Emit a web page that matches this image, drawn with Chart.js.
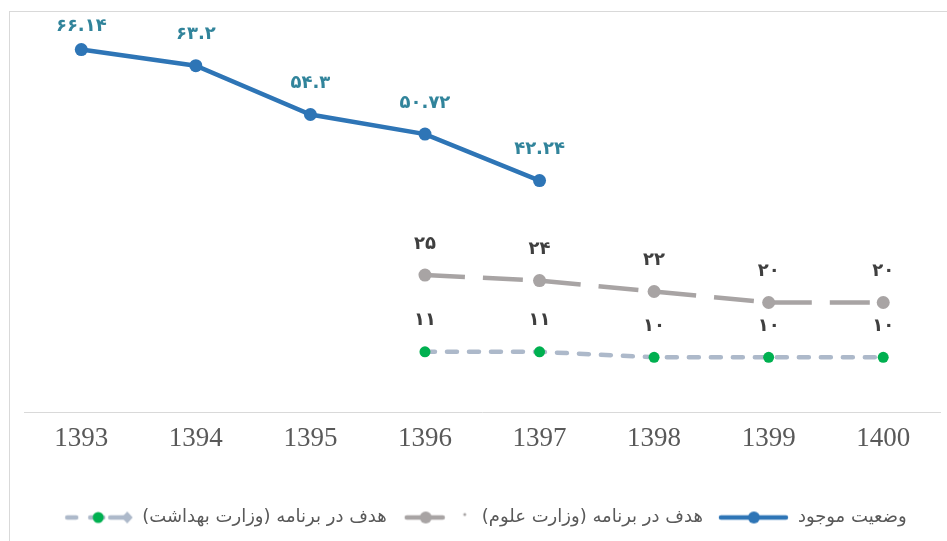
<!DOCTYPE html>
<html>
<head>
<meta charset="utf-8">
<script src="https://cdn.jsdelivr.net/npm/chart.js@4/dist/chart.umd.min.js"></script>
<style>
  body { margin: 0; background: #fff; }
  #wrap { position: relative; width: 947px; height: 541px; }
  .frame {
    position: absolute; left: 9px; top: 11px; right: 0; bottom: 0;
    border-left: 1px solid #d9d9d9; border-top: 1px solid #d9d9d9;
  }
  canvas { position: absolute; left: 0; top: 0; }
</style>
</head>
<body>
<div id="wrap">
  <div class="frame"></div>
  <canvas id="chart"></canvas>
</div>
<script>
const YEARS = ['1393', '1394', '1395', '1396', '1397', '1398', '1399', '1400']
const CURRENT = [66.14, 63.2, 54.3, 50.72, 42.24, null, null, null]
const TARGET_OLUM = [null, null, null, 25, 24, 22, 20, 20]
const TARGET_BEHDASHT = [null, null, null, 11, 11, 10, 10, 10]
const SERIES_NAMES = [
  'وضعیت موجود',
  'هدف در برنامه (وزارت علوم)',
  'هدف در برنامه (وزارت بهداشت)',
]

const FA_DIGITS = '۰۱۲۳۴۵۶۷۸۹'
function toPersian(value) {
  return String(value).replace(/\d/g, (d) => FA_DIGITS[d])
}

// legend markers, all the same width so the built-in legend spaces them evenly
const MARKER_W = 72
const MARKER_H = 16

function makeMarker(draw) {
  const c = document.createElement('canvas')
  c.width = MARKER_W
  c.height = MARKER_H
  const ctx = c.getContext('2d')
  draw(ctx, MARKER_H / 2)
  return c
}

function dot(ctx, x, y, r, color) {
  ctx.fillStyle = color
  ctx.beginPath()
  ctx.arc(x, y, r, 0, Math.PI * 2)
  ctx.fill()
}

const blueMarker = makeMarker((ctx, y) => {
  ctx.strokeStyle = '#2e75b6'
  ctx.lineWidth = 4.5
  ctx.lineCap = 'round'
  ctx.beginPath()
  ctx.moveTo(MARKER_W - 68, y)
  ctx.lineTo(MARKER_W - 3, y)
  ctx.stroke()
  dot(ctx, MARKER_W - 35, y, 6, '#2e75b6')
})

const grayMarker = makeMarker((ctx, y) => {
  ctx.strokeStyle = '#a8a4a4'
  ctx.lineWidth = 4.5
  ctx.lineCap = 'round'
  ctx.beginPath()
  ctx.moveTo(MARKER_W - 66, y)
  ctx.lineTo(MARKER_W - 30, y)
  ctx.stroke()
  dot(ctx, MARKER_W - 47, y, 6, '#a8a4a4')
  dot(ctx, MARKER_W - 8, y - 3, 1.5, '#a8a4a4')
})

const behdashtMarker = makeMarker((ctx, y) => {
  ctx.strokeStyle = '#adb9ca'
  ctx.lineWidth = 4.5
  ctx.lineCap = 'round'
  ctx.beginPath()
  ctx.moveTo(6, y)
  ctx.lineTo(15, y)
  ctx.moveTo(29, y)
  ctx.lineTo(42, y)
  ctx.moveTo(49, y)
  ctx.lineTo(63, y)
  ctx.stroke()
  dot(ctx, 37, y, 5.5, '#00b050')
  ctx.fillStyle = '#adb9ca'
  ctx.beginPath()
  ctx.moveTo(66, y - 6)
  ctx.lineTo(71.5, y)
  ctx.lineTo(66, y + 6)
  ctx.lineTo(60.5, y)
  ctx.closePath()
  ctx.fill()
})

const MARKERS = [blueMarker, grayMarker, behdashtMarker]

const valueLabels = {
  id: 'valueLabels',
  afterDatasetsDraw(chart) {
    const { ctx } = chart
    ctx.save()
    ctx.font = 'bold 18px "DejaVu Sans"'
    ctx.textAlign = 'center'
    ctx.textBaseline = 'middle'
    chart.data.datasets.forEach((ds, i) => {
      const meta = chart.getDatasetMeta(i)
      ctx.fillStyle = ds.labelColor
      meta.data.forEach((pt, j) => {
        const v = ds.data[j]
        if (v === null) return
        const y = Math.max(pt.y - 31, 26)
        ctx.fillText(toPersian(v), pt.x, y)
      })
    })
    ctx.restore()
  },
}

new Chart(document.getElementById('chart'), {
  type: 'line',
  data: {
    labels: YEARS,
    datasets: [
      {
        label: SERIES_NAMES[0],
        data: CURRENT,
        borderColor: '#2e75b6',
        backgroundColor: '#2e75b6',
        borderWidth: 4.5,
        pointRadius: 6.5,
        pointBorderWidth: 0,
        labelColor: '#31849b',
      },
      {
        label: SERIES_NAMES[1],
        data: TARGET_OLUM,
        borderColor: '#a8a4a4',
        backgroundColor: '#a8a4a4',
        borderWidth: 4.5,
        borderDash: [40, 18],
        pointRadius: 6.5,
        pointBorderWidth: 0,
        labelColor: '#3f3f3f',
      },
      {
        label: SERIES_NAMES[2],
        data: TARGET_BEHDASHT,
        borderColor: '#adb9ca',
        backgroundColor: '#00b050',
        borderWidth: 4.5,
        borderDash: [10, 12],
        borderCapStyle: 'round',
        pointRadius: 5.5,
        pointBorderWidth: 0,
        labelColor: '#3f3f3f',
      },
    ],
  },
  options: {
    responsive: true,
    maintainAspectRatio: false,
    animation: false,
    layout: {
      padding: { top: 0, left: 24, right: 3, bottom: 4.5 },
    },
    scales: {
      x: {
        offset: true,
        grid: { display: false, drawTicks: false, offset: true },
        border: { display: true, color: '#d9d9d9', width: 1 },
        ticks: {
          padding: 11,
          color: '#595959',
          font: { family: '"Liberation Serif"', size: 27 },
        },
        afterFit(scale) {
          scale.height += 28
        },
      },
      y: {
        display: false,
        min: 0,
        max: 74,
      },
    },
    plugins: {
      tooltip: { enabled: false },
      legend: {
        position: 'bottom',
        reverse: true,
        textDirection: 'rtl',
        labels: {
          usePointStyle: true,
          pointStyleWidth: MARKER_W,
          padding: 14,
          color: '#595959',
          font: { family: '"DejaVu Sans"', size: 18 },
          generateLabels(chart) {
            return chart.data.datasets.map((ds, i) => ({
              text: ds.label,
              datasetIndex: i,
              pointStyle: MARKERS[i],
              fillStyle: ds.borderColor,
              strokeStyle: ds.borderColor,
              lineWidth: 0,
              fontColor: '#595959',
            }))
          },
        },
      },
    },
  },
  plugins: [valueLabels],
})
</script>
</body>
</html>
